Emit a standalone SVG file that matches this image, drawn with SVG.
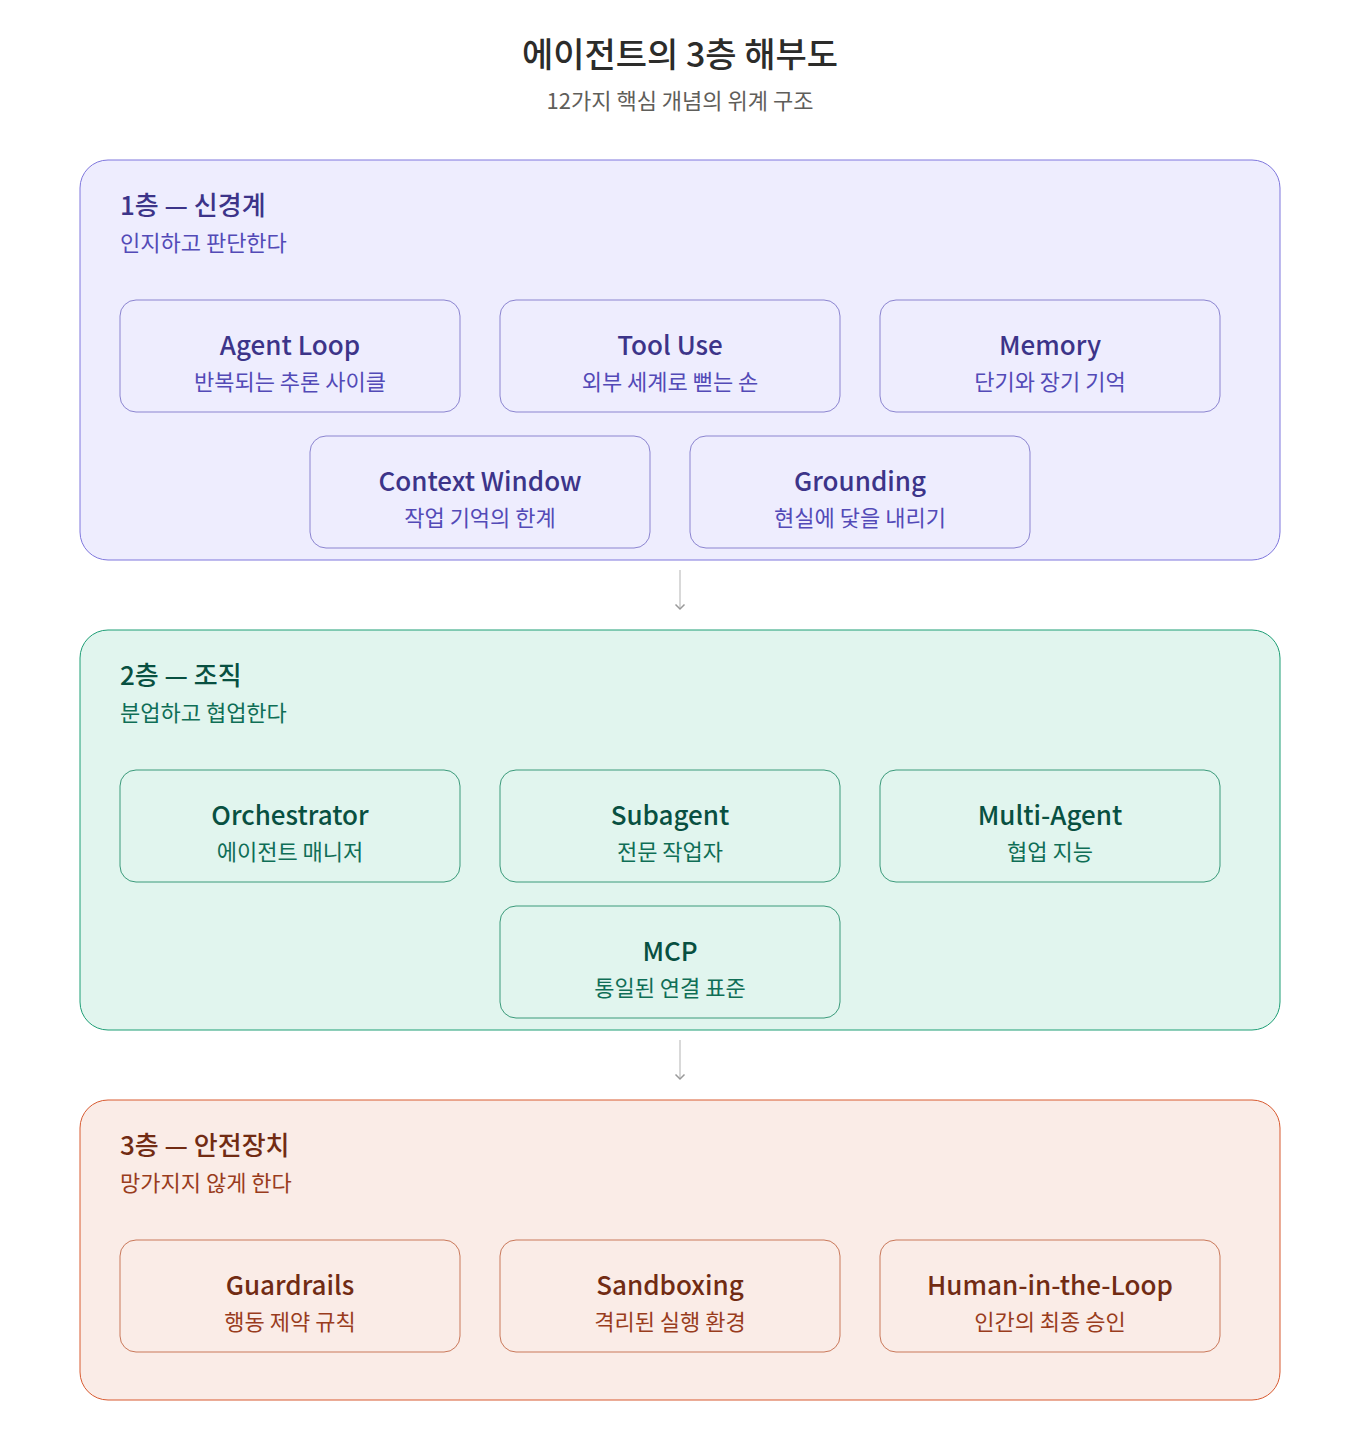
<svg xmlns="http://www.w3.org/2000/svg" width="1360" height="1440" viewBox="0 0 1360 1440">
<style>
text{font-family:"Noto Sans CJK KR","Noto Sans",sans-serif;text-anchor:middle}
.lt{text-anchor:start}
.t1{fill:#3c3489}.s1{fill:#534ab7}
.t2{fill:#085041}.s2{fill:#0f6e56}
.t3{fill:#712b13}.s3{fill:#993c1d}
.b1{fill:#eeedfe;stroke:#7f77dd;stroke-width:1}
.b2{fill:#e1f5ee;stroke:#1d9e75;stroke-width:1}
.b3{fill:#faece7;stroke:#d85a30;stroke-width:1}
.n1{fill:#eeedfe;stroke:#8b84d0}
.n2{fill:#e1f5ee;stroke:#3a9a7a}
.n3{fill:#faece7;stroke:#c9785a}
.h{font-size:28px}.sub{font-size:22px}
.lh{font-size:26px;font-weight:500}.ls{font-size:22px}
</style>
<defs><marker id="a" markerWidth="8" markerHeight="8" refX="4" refY="4" orient="auto"><path d="M1,1 L4,4 L1,7" fill="none" stroke="#999" stroke-width="1"/></marker></defs>
<rect width="1360" height="1440" fill="#fff"/>
<text x="680" y="67" font-size="34" font-weight="500" fill="#2c2c2a">에이전트의 3층 해부도</text>
<text x="680" y="109" font-size="22" fill="#5f5e5a">12가지 핵심 개념의 위계 구조</text>
<g id="layer1"><rect class="b1" x="80" y="160" width="1200" height="400" rx="28"/>
<text class="lt t1" x="120" y="215" font-size="26" font-weight="500">1층 — 신경계</text>
<text class="lt s1" x="120" y="251" font-size="22">인지하고 판단한다</text></g>
<g id="layer2"><rect class="b2" x="80" y="630" width="1200" height="400" rx="28"/>
<text class="lt t2" x="120" y="685" font-size="26" font-weight="500">2층 — 조직</text>
<text class="lt s2" x="120" y="721" font-size="22">분업하고 협업한다</text></g>
<g id="layer3"><rect class="b3" x="80" y="1100" width="1200" height="300" rx="28"/>
<text class="lt t3" x="120" y="1155" font-size="26" font-weight="500">3층 — 안전장치</text>
<text class="lt s3" x="120" y="1191" font-size="22">망가지지 않게 한다</text></g>
<g id="n-agentloop"><rect class="n1" x="120" y="300" width="340" height="112" rx="16"/><text class="t1 lh" x="290" y="355">Agent Loop</text><text class="s1 ls" x="290" y="390">반복되는 추론 사이클</text></g>
<g id="n-tooluse"><rect class="n1" x="500" y="300" width="340" height="112" rx="16"/><text class="t1 lh" x="670" y="355">Tool Use</text><text class="s1 ls" x="670" y="390">외부 세계로 뻗는 손</text></g>
<g id="n-memory"><rect class="n1" x="880" y="300" width="340" height="112" rx="16"/><text class="t1 lh" x="1050" y="355">Memory</text><text class="s1 ls" x="1050" y="390">단기와 장기 기억</text></g>
<g id="n-context"><rect class="n1" x="310" y="436" width="340" height="112" rx="16"/><text class="t1 lh" x="480" y="491">Context Window</text><text class="s1 ls" x="480" y="526">작업 기억의 한계</text></g>
<g id="n-grounding"><rect class="n1" x="690" y="436" width="340" height="112" rx="16"/><text class="t1 lh" x="860" y="491">Grounding</text><text class="s1 ls" x="860" y="526">현실에 닻을 내리기</text></g>
<g id="n-orch"><rect class="n2" x="120" y="770" width="340" height="112" rx="16"/><text class="t2 lh" x="290" y="825">Orchestrator</text><text class="s2 ls" x="290" y="860">에이전트 매니저</text></g>
<g id="n-sub"><rect class="n2" x="500" y="770" width="340" height="112" rx="16"/><text class="t2 lh" x="670" y="825">Subagent</text><text class="s2 ls" x="670" y="860">전문 작업자</text></g>
<g id="n-multi"><rect class="n2" x="880" y="770" width="340" height="112" rx="16"/><text class="t2 lh" x="1050" y="825">Multi-Agent</text><text class="s2 ls" x="1050" y="860">협업 지능</text></g>
<g id="n-mcp"><rect class="n2" x="500" y="906" width="340" height="112" rx="16"/><text class="t2 lh" x="670" y="961">MCP</text><text class="s2 ls" x="670" y="996">통일된 연결 표준</text></g>
<g id="n-guard"><rect class="n3" x="120" y="1240" width="340" height="112" rx="16"/><text class="t3 lh" x="290" y="1295">Guardrails</text><text class="s3 ls" x="290" y="1330">행동 제약 규칙</text></g>
<g id="n-sand"><rect class="n3" x="500" y="1240" width="340" height="112" rx="16"/><text class="t3 lh" x="670" y="1295">Sandboxing</text><text class="s3 ls" x="670" y="1330">격리된 실행 환경</text></g>
<g id="n-hitl"><rect class="n3" x="880" y="1240" width="340" height="112" rx="16"/><text class="t3 lh" x="1050" y="1295">Human-in-the-Loop</text><text class="s3 ls" x="1050" y="1330">인간의 최종 승인</text></g>
<g id="connectors" stroke="#ccc" stroke-width="1.5" fill="none">
<line x1="680" y1="570" x2="680" y2="609" marker-end="url(#a)"/>
<line x1="680" y1="1040" x2="680" y2="1079" marker-end="url(#a)"/>
</g>
</svg>
